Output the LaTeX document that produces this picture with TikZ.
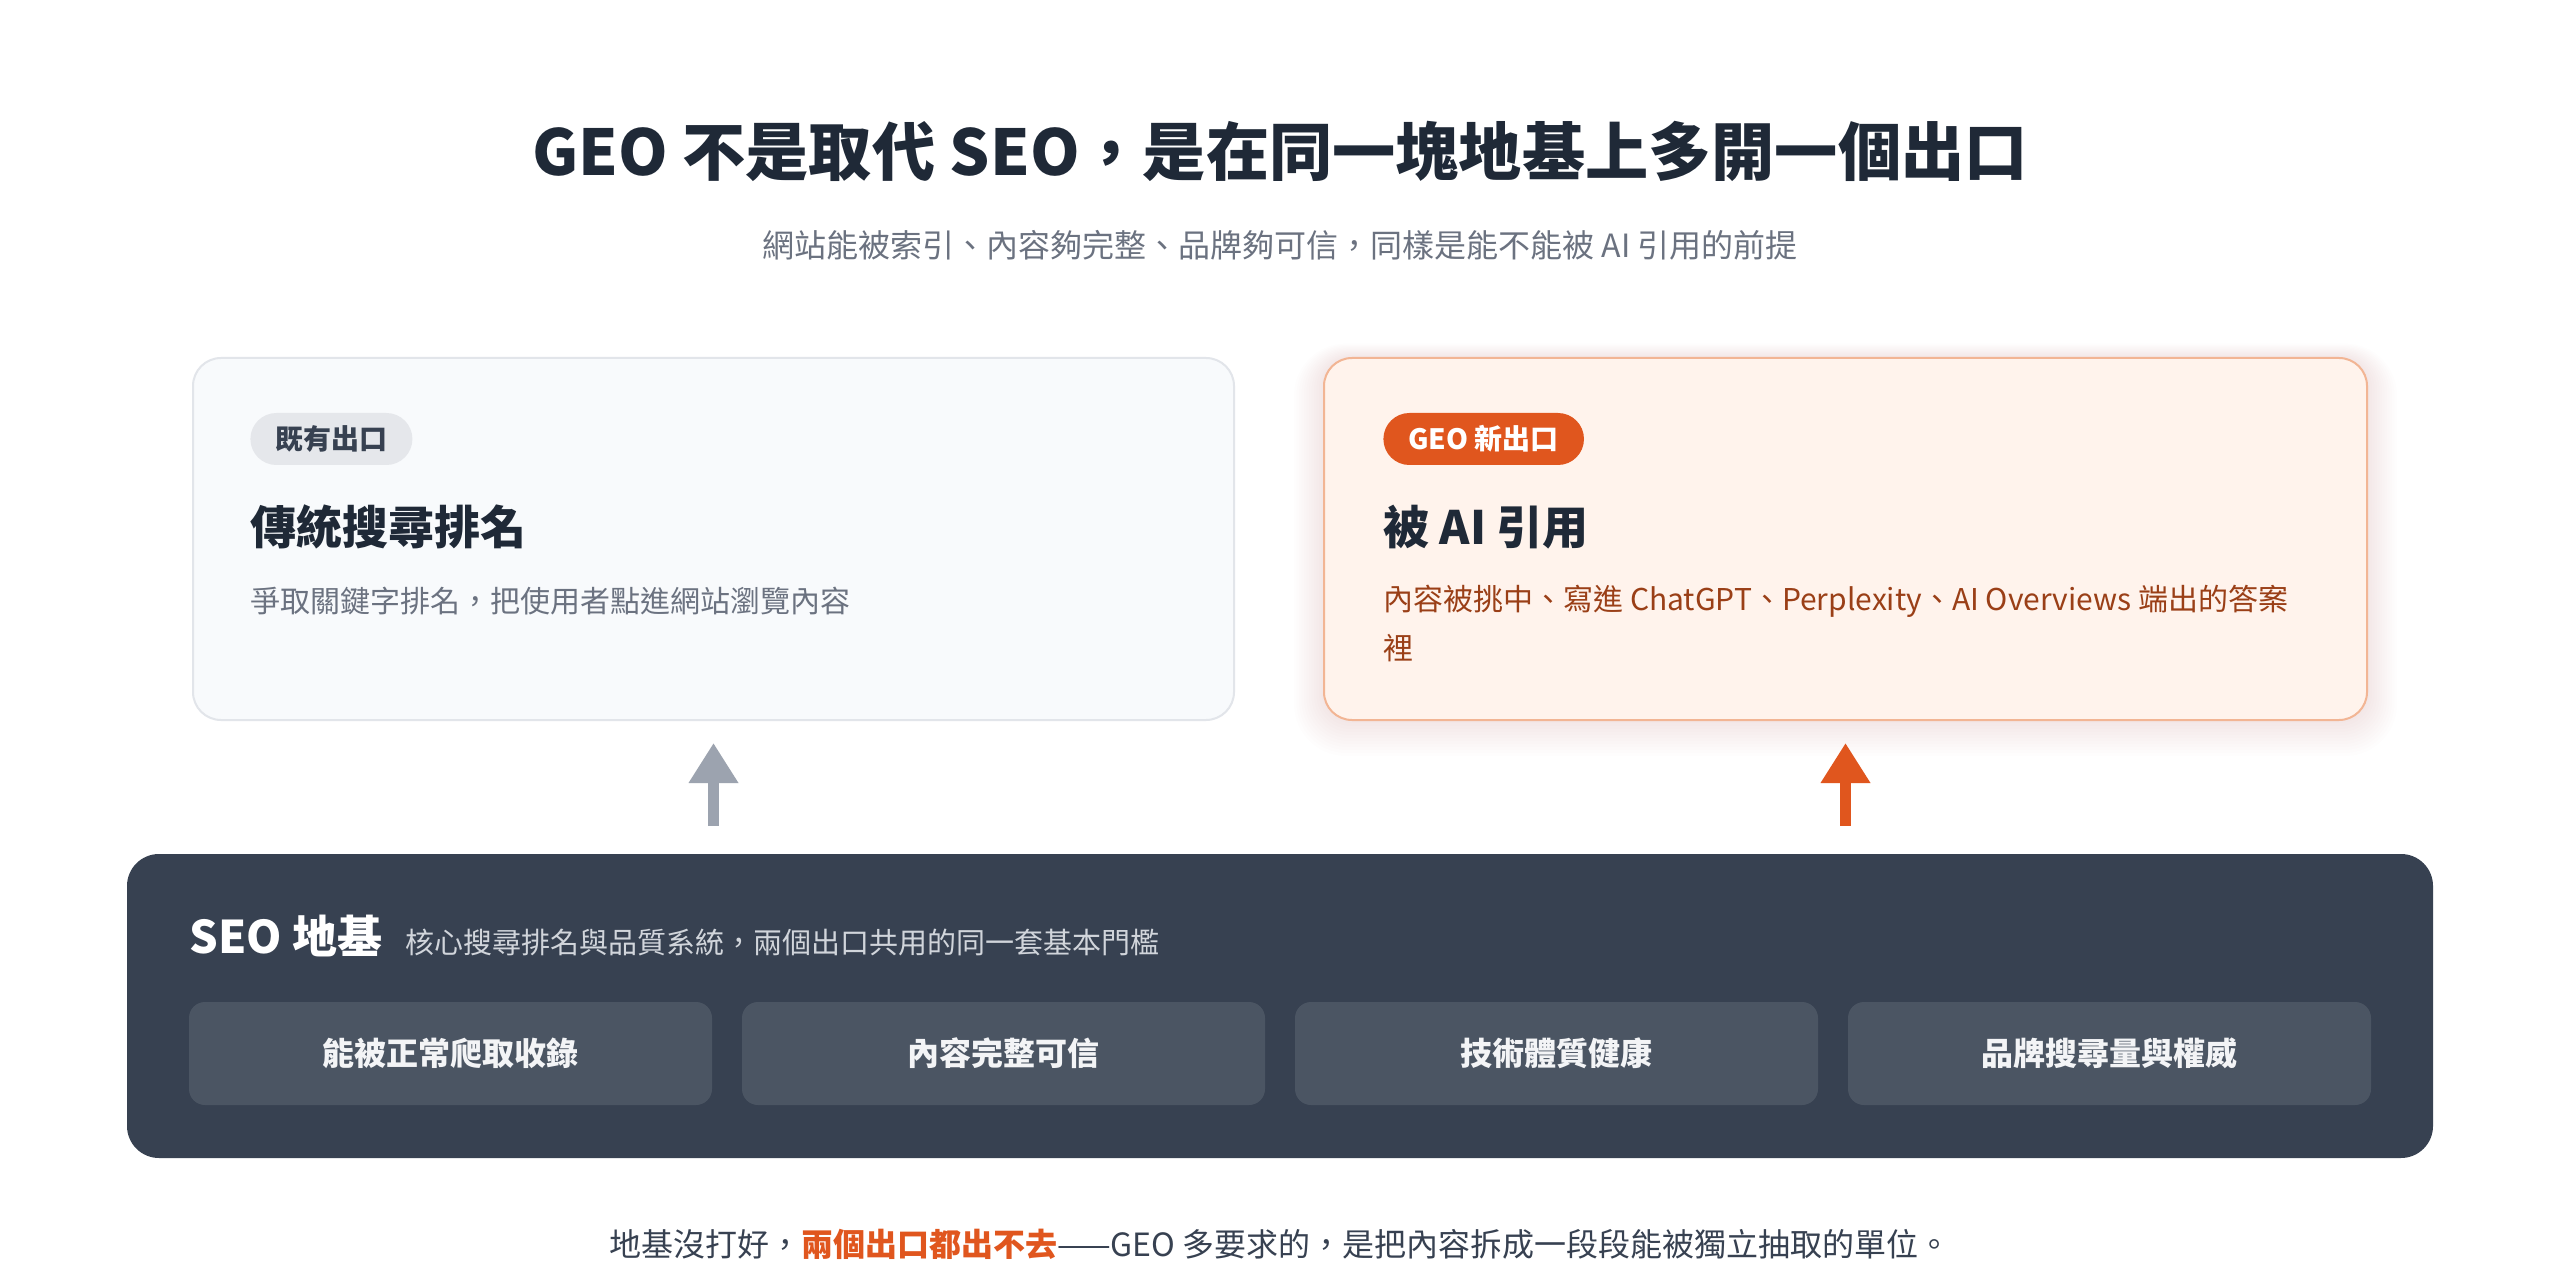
\documentclass[tikz,border=0pt]{standalone}
\usepackage{fontspec}
\setmainfont{Noto Sans CJK TC}
\usetikzlibrary{arrows.meta,calc}
\definecolor{ink}{HTML}{1F2937}
\definecolor{subgray}{HTML}{6B7280}
\definecolor{lborder}{HTML}{E2E5EA}
\definecolor{lfill}{HTML}{F8FAFC}
\definecolor{lbadge}{HTML}{E5E7EB}
\definecolor{lbadgetext}{HTML}{374151}
\definecolor{rfill}{HTML}{FFF3EC}
\definecolor{rborder}{HTML}{F2B594}
\definecolor{geoorange}{HTML}{E0561E}
\definecolor{rdesc}{HTML}{9A3F17}
\definecolor{arrowgray}{HTML}{9CA3AF}
\definecolor{darkbase}{HTML}{374151}
\definecolor{pillarfill}{HTML}{4B5563}
\definecolor{pillartext}{HTML}{F3F4F6}
\definecolor{basesub}{HTML}{D1D5DB}
\definecolor{bottomtext}{HTML}{374151}
\begin{document}
\begin{tikzpicture}[x=0.5pt,y=-0.5pt,
  card/.style={rectangle, rounded corners=14pt, line width=1pt, minimum width=520.5pt, minimum height=181pt, inner sep=0pt},
  badge/.style={rectangle, rounded corners=13pt, minimum height=26pt, inner xsep=12.5pt, inner ysep=0pt, font=\fontsize{14}{16}\selectfont\bfseries, anchor=west},
  ctitle/.style={anchor=west, inner sep=0pt, font=\fontsize{23}{28}\selectfont\bfseries, text=ink},
  desc/.style={anchor=west, inner sep=0pt, font=\fontsize{15}{18}\selectfont},
  pillar/.style={rectangle, rounded corners=8pt, fill=pillarfill, minimum width=261.5pt, minimum height=51.5pt, inner sep=0pt, text=pillartext, font=\fontsize{16}{19}\selectfont\bfseries},
  uparrow/.style={line width=5.5pt, -{Triangle[width=23.5pt,length=20pt]}},
]
\useasboundingbox (0,0) rectangle (2560,1283);
\fill[white] (0,0) rectangle (2560,1283);

% title and subtitle
\node[anchor=base, inner sep=0pt, text=ink, font=\fontsize{31.6}{38}\selectfont\bfseries] (title) at (1280,176) {GEO 不是取代 SEO，是在同一塊地基上多開一個出口};
\node[inner sep=0pt, text=subgray, font=\fontsize{16}{19}\selectfont] (subtitle) at (1280,245) {網站能被索引、內容夠完整、品牌夠可信，同樣是能不能被 AI 引用的前提};

% left card
\node[card, draw=lborder, fill=lfill] (left) at (713.5,539) {};
\node[badge, fill=lbadge, text=lbadgetext] (lbadge) at (250,439) {既有出口};
\node[ctitle] (ltitle) at (250,527) {傳統搜尋排名};
\node[desc, text=subgray] (ldesc) at (250,601) {爭取關鍵字排名，把使用者點進網站瀏覽內容};

% right card glow
\foreach \i in {1,...,12}{
  \fill[geoorange, opacity=0.007, rounded corners=14pt+\i*1pt]
    (1324-\i*2.5,358-\i*1.2) rectangle (2367+\i*2.5,720+\i*3);
}
% right card
\node[card, draw=rborder, fill=rfill, minimum width=521.5pt] (right) at (1845.5,539) {};
\node[badge, fill=geoorange, text=white] (rbadge) at (1383,439) {GEO 新出口};
\node[ctitle] (rtitle) at (1383,527) {被 AI 引用};
\node[desc, text=rdesc] (rdesc1) at (1383,601) {內容被挑中、寫進 ChatGPT、Perplexity、AI Overviews 端出的答案};
\node[desc, text=rdesc] (rdesc2) at (1383,648) {裡};

% SEO base
\node[rectangle, rounded corners=16pt, fill=darkbase, minimum width=1153pt, minimum height=152pt, inner sep=0pt] (base) at (1280,1006) {};
\node[anchor=base west, inner sep=0pt, text=white, font=\fontsize{22.5}{27}\selectfont\bfseries] (basehead) at (189,953) {SEO 地基};
\node[anchor=base west, inner sep=0pt, text=basesub, font=\fontsize{14.5}{18}\selectfont] (basesubtext) at (405,953) {核心搜尋排名與品質系統，兩個出口共用的同一套基本門檻};

\node[pillar] (p1) at (450.5,1053.5) {能被正常爬取收錄};
\node[pillar] (p2) at (1003.5,1053.5) {內容完整可信};
\node[pillar] (p3) at (1556.5,1053.5) {技術體質健康};
\node[pillar] (p4) at (2109.5,1053.5) {品牌搜尋量與權威};

% arrows
\draw[uparrow, draw=arrowgray] ([yshift=14pt]left.south |- base.north) -- ([yshift=-11pt]left.south);
\draw[uparrow, draw=geoorange] ([yshift=14pt]right.south |- base.north) -- ([yshift=-11pt]right.south);

% bottom note
\node[inner sep=0pt, text=bottomtext, font=\fontsize{16}{19}\selectfont] (note) at (1280,1244) {地基沒打好，\textcolor{geoorange}{\bfseries 兩個出口都出不去}——GEO 多要求的，是把內容拆成一段段能被獨立抽取的單位。};
\end{tikzpicture}
\end{document}
